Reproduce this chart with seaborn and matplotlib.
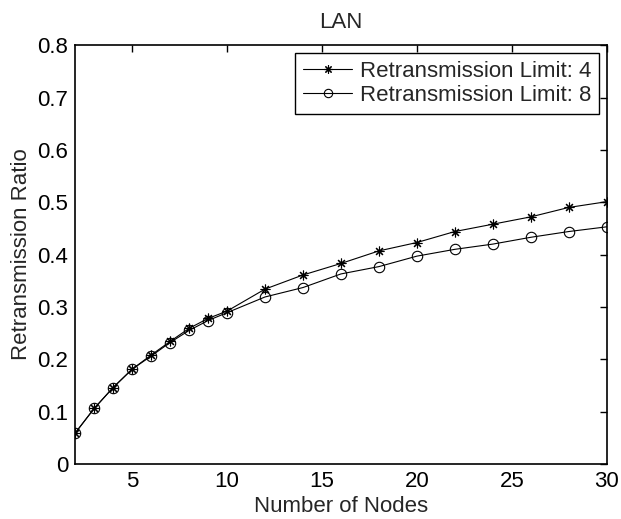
import matplotlib
matplotlib.use("Agg")
import matplotlib.pyplot as plt
import seaborn as sns
import pandas as pd

nodes = [2, 3, 4, 5, 6, 7, 8, 9, 10, 12, 14, 16, 18, 20, 22, 24, 26, 28, 30]
limit4 = [0.059, 0.106, 0.146, 0.181, 0.208, 0.234, 0.259, 0.278, 0.292, 0.334, 0.361,
          0.383, 0.407, 0.423, 0.444, 0.458, 0.472, 0.490, 0.501]
limit8 = [0.059, 0.106, 0.146, 0.181, 0.206, 0.232, 0.255, 0.274, 0.289, 0.319, 0.337,
          0.363, 0.377, 0.397, 0.410, 0.420, 0.433, 0.444, 0.453]
labels = ["Retransmission Limit: 4", "Retransmission Limit: 8"]
xticks = [5, 10, 15, 20, 25, 30]
yticks = [0, 0.1, 0.2, 0.3, 0.4, 0.5, 0.6, 0.7, 0.8]
yticklabels = ["0", "0.1", "0.2", "0.3", "0.4", "0.5", "0.6", "0.7", "0.8"]

sns.set_style("white")
plt.rcParams['font.family'] = ['Liberation Sans', 'DejaVu Sans']
FS = 16
plt.rcParams['font.size'] = FS

fig = plt.figure(figsize=(6.21, 5.19), dpi=100)
ax = fig.add_axes([0.121, 0.106, 0.856, 0.807])

df4 = pd.DataFrame({"Nodes": nodes, "Ratio": limit4})
df8 = pd.DataFrame({"Nodes": nodes, "Ratio": limit8})

sns.lineplot(data=df4, x="Nodes", y="Ratio", ax=ax, color="black", lw=0.8,
             marker=(8, 2, 0), markersize=7, markeredgewidth=0.8,
             markeredgecolor="black", label=labels[0])
sns.lineplot(data=df8, x="Nodes", y="Ratio", ax=ax, color="black", lw=0.8,
             marker="o", markersize=7.5, markerfacecolor="none", markeredgewidth=0.8,
             markeredgecolor="black", label=labels[1])

ax.set_xlim(2, 30)
ax.set_ylim(0, 0.8)
ax.set_xticks(xticks)
ax.set_yticks(yticks)
ax.set_yticklabels(yticklabels)
ax.tick_params(direction="in", length=5, width=1, top=True, right=True,
               labelsize=FS, pad=5, colors="black")
for s in ax.spines.values():
    s.set_visible(True)
    s.set_color("black")
    s.set_linewidth(1.2)

ax.set_xlabel("Number of Nodes", fontsize=FS, labelpad=3)
ax.set_ylabel("Retransmission Ratio", fontsize=FS, labelpad=4)
ax.set_title("LAN", fontsize=FS, pad=12.5)

leg = ax.legend(loc="upper right", fancybox=False, edgecolor="black", framealpha=1,
                fontsize=FS, handlelength=2.2, handletextpad=0.35, borderpad=0.35,
                labelspacing=0.15, borderaxespad=0.35)
leg.get_frame().set_linewidth(1.0)
for h in leg.legend_handles:
    h.set_markersize(6)

fig.savefig("out.png", dpi=100)
